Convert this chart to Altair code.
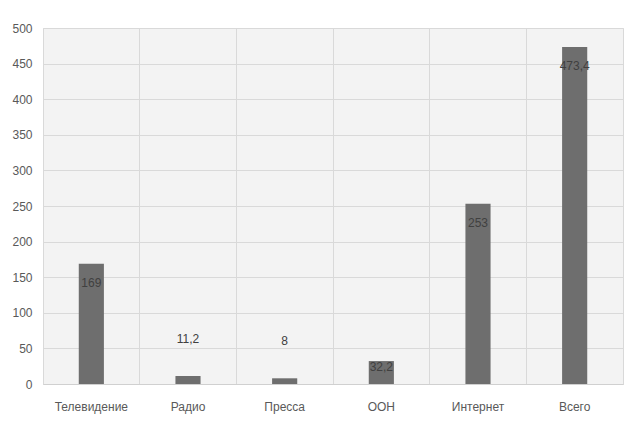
import altair as alt
import pandas as pd

# Media channels and their values
categories = ["Телевидение", "Радио", "Пресса", "ООН", "Интернет", "Всего"]
values = [169, 11.2, 8, 32.2, 253, 473.4]


def fmt(v):
    return f"{v:g}".replace(".", ",")


df = pd.DataFrame({
    "channel": categories,
    "value": values,
    "label": [fmt(v) for v in values],
})

FONT = "Liberation Sans, Arial"
GRID = "#d9d9d9"

x_enc = alt.X(
    "channel:N",
    sort=categories,
    title=None,
    scale=alt.Scale(paddingInner=0, paddingOuter=0),
    axis=alt.Axis(
        labelAngle=0,
        labelFontSize=12,
        labelColor="#595959",
        labelFont=FONT,
        labelPadding=17,
        ticks=False,
        domain=True,
        domainColor="#d0d0d0",
        grid=True,
        gridColor=GRID,
        bandPosition=0,
    ),
)
y_enc = alt.Y(
    "value:Q",
    title=None,
    scale=alt.Scale(domain=[0, 500], nice=False),
    axis=alt.Axis(
        values=list(range(0, 501, 50)),
        labelFontSize=12,
        labelColor="#595959",
        labelFont=FONT,
        labelPadding=11,
        ticks=False,
        domain=False,
        grid=True,
        gridColor=GRID,
    ),
)

base = alt.Chart(df).encode(x=x_enc, y=y_enc)

bars = base.mark_bar(width=alt.RelativeBandSize(0.26), color="#6e6e6e")

text_style = dict(fontSize=12, font=FONT, color="#404040", baseline="middle", align="center")

# Tall bars: label inside near the top of the bar
inside = base.mark_text(dy=19, **text_style).encode(text="label:N").transform_filter(
    alt.datum.value >= 100
)
# Mid-height bar: label just under the top edge
near_top = base.mark_text(dy=6, **text_style).encode(text="label:N").transform_filter(
    (alt.datum.value >= 20) & (alt.datum.value < 100)
)
# Short bars: label above the bar
above = base.mark_text(dy=-37, **text_style).encode(text="label:N").transform_filter(
    alt.datum.value < 20
)

chart = (
    alt.layer(bars, inside, near_top, above)
    .properties(
        width=580,
        height=356,
        autosize=alt.AutoSizeParams(type="none"),
        padding={"left": 43, "top": 28, "right": 9, "bottom": 40},
        background="white",
    )
    .configure_view(stroke=GRID, fill="#f3f3f3")
)

chart.save("out.html", embed_options={"renderer": "svg", "actions": False})
